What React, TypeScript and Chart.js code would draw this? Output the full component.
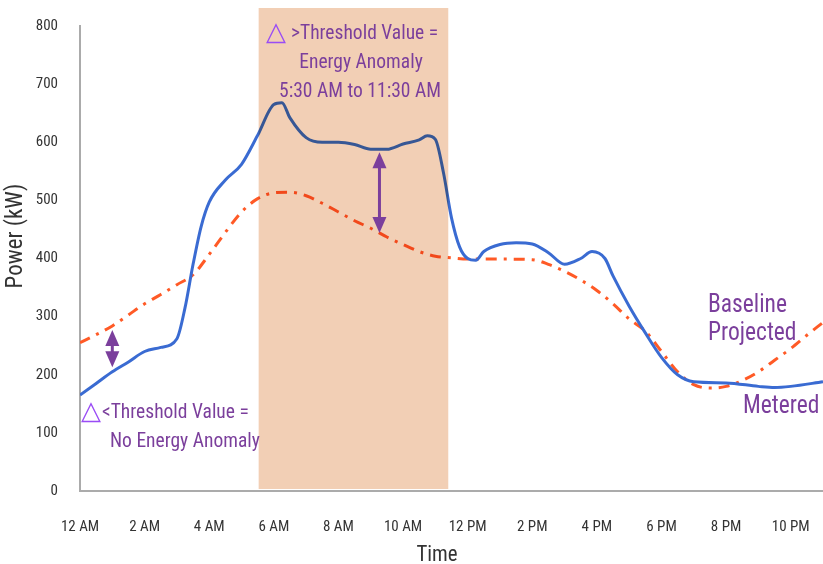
import { useEffect, useRef } from "react";
import { Chart, registerables } from "chart.js";

Chart.register(...registerables);

// ---------- data ----------
const X_TICKS = [0, 2, 4, 6, 8, 10, 12, 14, 16, 18, 20, 22];
const X_TICK_LABELS = ["12 AM", "2 AM", "4 AM", "6 AM", "8 AM", "10 AM", "12 PM", "2 PM", "4 PM", "6 PM", "8 PM", "10 PM"];
const Y_TICKS = [0, 100, 200, 300, 400, 500, 600, 700, 800];

const METERED_HOURS = [0, 0.5, 1, 1.5, 2, 2.5, 3, 3.25, 3.5, 3.75, 4, 4.5, 5, 5.5, 6, 6.25, 6.5, 7, 7.5, 8, 8.5, 9, 9.5, 10, 10.5, 10.75, 11, 11.25, 11.5, 11.75, 12, 12.25, 12.5, 13, 13.5, 14, 14.5, 15, 15.5, 15.85, 16.25, 16.5, 17, 17.5, 18, 18.5, 19, 20, 21, 21.5, 22, 23];
const METERED_KW = [165, 185, 205, 222, 240, 247, 262, 315, 390, 455, 497, 535, 562, 612, 665, 668, 642, 608, 600, 600, 596, 588, 588, 597, 604, 611, 605, 548, 470, 420, 400, 397, 412, 424, 427, 425, 410, 390, 400, 412, 400, 370, 318, 272, 230, 200, 188, 186, 180, 178, 180, 188];

const BASELINE_HOURS = [0, 1, 1.5, 2, 2.5, 3, 3.5, 4, 4.5, 5, 5.5, 6, 6.5, 7, 7.5, 8, 8.5, 9, 9.5, 10, 10.5, 11, 11.5, 12, 13, 14, 14.5, 15, 15.5, 16, 16.5, 17, 17.5, 18, 18.5, 19, 19.5, 20, 20.5, 21, 21.5, 22, 22.5, 23];
const BASELINE_KW = [255, 284, 303, 322, 338, 355, 372, 407, 445, 480, 503, 513, 514, 508, 495, 480, 465, 452, 437, 424, 412, 404, 401, 399, 399, 398, 390, 378, 363, 345, 322, 296, 275, 240, 205, 183, 177, 180, 190, 205, 225, 245, 268, 290];

// anomaly window (hours) and its top (kW)
const ANOMALY_WINDOW = [5.53, 11.4];
const ANOMALY_TOP_KW = 831;

// difference arrows: hour, top value, bottom value
const ARROW_HOURS = [1, 9.27];
const ARROW_TOP_KW = [277, 583];
const ARROW_BOTTOM_KW = [213, 444];

// ---------- style ----------
const FONT = '"Liberation Sans Narrow", "Roboto Condensed", Roboto, sans-serif';
const BLUE = "#3a6bd2";
const ORANGE = "#ff5a26";
const PURPLE = "#7b3f9c";
const VIOLET = "#9a4cf5";
const BOX = "#f2cfb5";
const AXIS = "#ababab";
const TICK = "#333333";

function drawArrow(ctx: CanvasRenderingContext2D, x: number, yTop: number, yBot: number) {
  const head = 16;
  const half = 7;
  ctx.save();
  ctx.strokeStyle = PURPLE;
  ctx.fillStyle = PURPLE;
  ctx.lineWidth = 3;
  ctx.beginPath();
  ctx.moveTo(x, yTop + head - 1);
  ctx.lineTo(x, yBot - head + 1);
  ctx.stroke();
  ctx.beginPath();
  ctx.moveTo(x, yTop);
  ctx.lineTo(x - half, yTop + head);
  ctx.lineTo(x + half, yTop + head);
  ctx.closePath();
  ctx.fill();
  ctx.beginPath();
  ctx.moveTo(x, yBot);
  ctx.lineTo(x - half, yBot - head);
  ctx.lineTo(x + half, yBot - head);
  ctx.closePath();
  ctx.fill();
  ctx.restore();
}

function narrowText(
  ctx: CanvasRenderingContext2D,
  text: string,
  x: number,
  y: number,
  size: number,
  color: string,
  align: CanvasTextAlign,
  squeeze = 1,
  rotate = 0
) {
  ctx.save();
  ctx.translate(x, y);
  if (rotate) ctx.rotate(rotate);
  ctx.scale(squeeze, 1);
  ctx.font = `${size}px ${FONT}`;
  ctx.fillStyle = color;
  ctx.textAlign = align;
  ctx.textBaseline = "alphabetic";
  ctx.fillText(text, 0, 0);
  ctx.restore();
}

const NOTE_SIZE = 21;
const NOTE_SQUEEZE = 0.93;
const LABEL_SIZE = 25;
const LABEL_SQUEEZE = 0.94;

function deltaLine(ctx: CanvasRenderingContext2D, triX: number, textX: number, baseline: number, text: string) {
  ctx.save();
  ctx.textAlign = "left";
  ctx.textBaseline = "alphabetic";
  ctx.fillStyle = VIOLET;
  ctx.font = '26px "DejaVu Sans", sans-serif';
  ctx.fillText("△", triX, baseline + 1);
  ctx.restore();
  narrowText(ctx, text, textX, baseline, NOTE_SIZE, PURPLE, "left", NOTE_SQUEEZE);
}

const overlay = {
  id: "overlay",
  afterDatasetsDraw(chart: any) {
    const { ctx } = chart;
    const x = chart.scales.x;
    const y = chart.scales.y;
    const x0 = x.getPixelForValue(ANOMALY_WINDOW[0]);
    const x1 = x.getPixelForValue(ANOMALY_WINDOW[1]);
    const yTop = y.getPixelForValue(ANOMALY_TOP_KW);
    const yBot = y.getPixelForValue(0) - 2;
    ctx.save();
    ctx.globalCompositeOperation = "multiply";
    ctx.fillStyle = BOX;
    ctx.fillRect(x0, yTop, x1 - x0, yBot - yTop);
    ctx.restore();
    ARROW_HOURS.forEach((h, i) => {
      drawArrow(ctx, x.getPixelForValue(h), y.getPixelForValue(ARROW_TOP_KW[i]), y.getPixelForValue(ARROW_BOTTOM_KW[i]));
    });
  },
  afterDraw(chart: any) {
    const { ctx } = chart;
    // axis titles
    narrowText(ctx, "Time", 437, 561, 22, TICK, "center", 0.95);
    narrowText(ctx, "Power (kW)", 22, 236, 23, TICK, "center", 1, -Math.PI / 2);

    // anomaly annotation
    deltaLine(ctx, 266, 291, 39, ">Threshold Value =");
    narrowText(ctx, "Energy Anomaly", 361, 68, NOTE_SIZE, PURPLE, "center", NOTE_SQUEEZE);
    narrowText(ctx, "5:30 AM to 11:30 AM", 360, 97, NOTE_SIZE, PURPLE, "center", NOTE_SQUEEZE);

    // no anomaly annotation
    deltaLine(ctx, 81, 102, 418, "<Threshold Value =");
    narrowText(ctx, "No Energy Anomaly", 110, 447, NOTE_SIZE, PURPLE, "left", NOTE_SQUEEZE);

    // series labels
    narrowText(ctx, "Baseline", 708, 312, LABEL_SIZE, PURPLE, "left", LABEL_SQUEEZE);
    narrowText(ctx, "Projected", 708, 340, LABEL_SIZE, PURPLE, "left", LABEL_SQUEEZE);
    narrowText(ctx, "Metered", 743, 413, LABEL_SIZE, PURPLE, "left", LABEL_SQUEEZE);
  },
};

export default function App() {
  const ref = useRef<HTMLCanvasElement | null>(null);

  useEffect(() => {
    if (!ref.current) return;
    const chart = new Chart(ref.current, {
      type: "line",
      data: {
        datasets: [
          {
            label: "Metered",
            data: METERED_HOURS.map((h, i) => ({ x: h, y: METERED_KW[i] })),
            borderColor: BLUE,
            borderWidth: 3,
            pointRadius: 0,
            cubicInterpolationMode: "monotone",
            fill: false,
          },
          {
            label: "Baseline Projected",
            data: BASELINE_HOURS.map((h, i) => ({ x: h, y: BASELINE_KW[i] })),
            borderColor: ORANGE,
            borderWidth: 3,
            borderDash: [11, 7, 3, 7],
            pointRadius: 0,
            cubicInterpolationMode: "monotone",
            fill: false,
          },
        ],
      },
      options: {
        animation: false,
        responsive: true,
        maintainAspectRatio: false,
        layout: { padding: { top: 26, left: 0, right: 0, bottom: 0 } },
        plugins: {
          legend: { display: false },
          tooltip: { enabled: false },
          title: { display: false },
        },
        scales: {
          x: {
            type: "linear",
            min: 0,
            max: 23,
            afterBuildTicks: (s: any) => {
              s.ticks = X_TICKS.map((v) => ({ value: v }));
            },
            afterFit: (s: any) => {
              s.height = 73;
              s.paddingLeft = 0;
              s.paddingRight = 0;
            },
            grid: { display: false },
            border: { color: AXIS, width: 2 },
            ticks: {
              autoSkip: false,
              maxRotation: 0,
              padding: 19,
              color: TICK,
              font: { family: FONT, size: 15 },
              callback: (v: any) => X_TICK_LABELS[X_TICKS.indexOf(Number(v))] ?? "",
            },
          },
          y: {
            type: "linear",
            min: 0,
            max: 800,
            afterBuildTicks: (s: any) => {
              s.ticks = Y_TICKS.map((v) => ({ value: v }));
            },
            afterFit: (s: any) => {
              s.width = 80;
              s.paddingTop = 0;
              s.paddingBottom = 0;
            },
            grid: { display: false },
            border: { color: AXIS, width: 2 },
            ticks: {
              padding: 14,
              color: TICK,
              font: { family: FONT, size: 15 },
            },
          },
        },
      },
      plugins: [overlay],
    });
    return () => chart.destroy();
  }, []);

  return (
    <div style={{ position: "fixed", left: 0, top: 0, width: 823, height: 564, background: "#fff" }}>
      <canvas ref={ref} />
    </div>
  );
}
